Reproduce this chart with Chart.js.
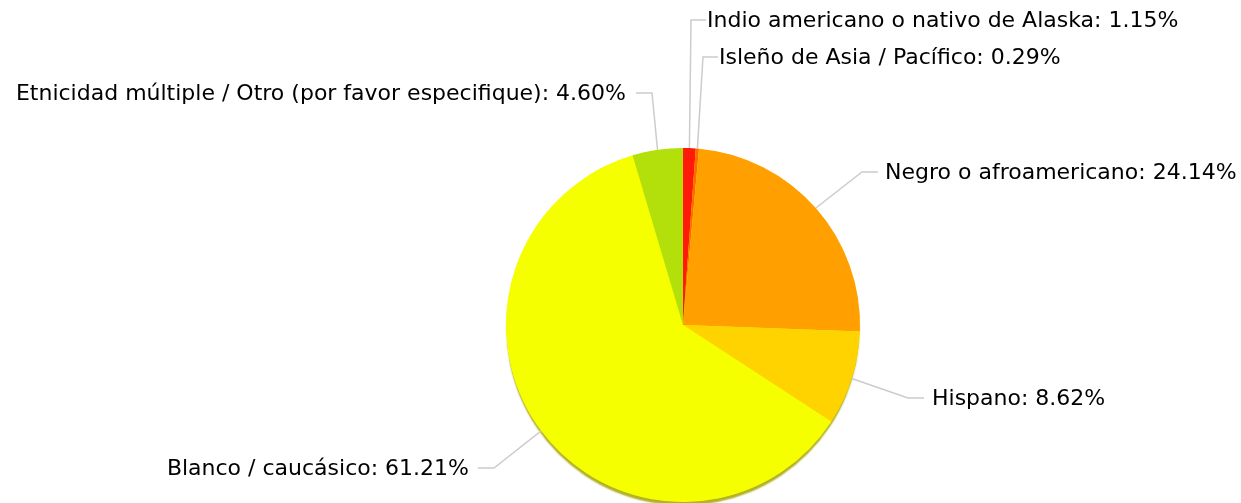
<!DOCTYPE html>
<html>
<head>
<meta charset="utf-8">
<script src="https://cdn.jsdelivr.net/npm/chart.js@4.4.0/dist/chart.umd.min.js"></script>
<style>
  html, body { margin: 0; padding: 0; background: #fff; }
  #wrap { width: 1241px; height: 503px; }
</style>
</head>
<body>
<div id="wrap"><canvas id="pie" width="1241" height="503"></canvas></div>
<script>
// données du graphique
const categories = [
    'Indio americano o nativo de Alaska',
    'Isleño de Asia / Pacífico',
    'Negro o afroamericano',
    'Hispano',
    'Blanco / caucásico',
    'Etnicidad múltiple / Otro (por favor especifique)'
];
const percents = [1.15, 0.29, 24.14, 8.62, 61.21, 4.60];
const colors = ['#ff1a0a', '#ff6a00', '#ffa000', '#ffd300', '#f5ff00', '#b3df0a'];

// position des étiquettes (coude du trait + texte)
const labelLayout = [
    { ex: 691, ey: 20, lx: 706, tx: 707, align: 'left' },
    { ex: 703, ey: 57, lx: 718, tx: 719, align: 'left' },
    { ex: 862, ey: 172, lx: 878, tx: 885, align: 'left' },
    { ex: 908, ey: 398, lx: 924, tx: 932, align: 'left' },
    { ex: 494, ey: 468, lx: 478, tx: 469, align: 'right' },
    { ex: 652, ey: 93, lx: 636, tx: 626, align: 'right' }
];

const FONT = '22px "DejaVu Sans", Verdana, sans-serif';

// ombre sous le camembert (un seul disque, dessiné avant les parts)
const shadowPlugin = {
    id: 'pieShadow',
    beforeDatasetsDraw(chart) {
        const arc = chart.getDatasetMeta(0).data[0];
        if (!arc) return;
        const p = arc.getProps(['x', 'y', 'outerRadius'], true);
        const ctx = chart.ctx;
        ctx.save();
        ctx.shadowColor = 'rgba(165, 165, 0, 0.85)';
        ctx.shadowOffsetY = 4;
        ctx.shadowBlur = 1.5;
        ctx.fillStyle = '#f5ff00';
        ctx.beginPath();
        ctx.arc(p.x, p.y, p.outerRadius - 0.5, 0, Math.PI * 2);
        ctx.fill();
        ctx.restore();
    }
};

// étiquettes avec traits de rappel
const leaderPlugin = {
    id: 'leaders',
    afterDraw(chart) {
        const ctx = chart.ctx;
        const arcs = chart.getDatasetMeta(0).data;
        ctx.save();
        ctx.font = FONT;
        ctx.textBaseline = 'middle';
        arcs.forEach((arc, i) => {
            const p = arc.getProps(['x', 'y', 'startAngle', 'endAngle', 'outerRadius'], true);
            const mid = (p.startAngle + p.endAngle) / 2;
            const sx = p.x + Math.cos(mid) * p.outerRadius;
            const sy = p.y + Math.sin(mid) * p.outerRadius;
            const L = labelLayout[i];
            ctx.strokeStyle = '#cccccc';
            ctx.lineWidth = 1.5;
            ctx.beginPath();
            ctx.moveTo(sx, sy);
            ctx.lineTo(L.ex, L.ey);
            ctx.lineTo(L.lx, L.ey);
            ctx.stroke();
            ctx.fillStyle = '#000000';
            ctx.textAlign = L.align;
            ctx.fillText(categories[i] + ': ' + percents[i].toFixed(2) + '%', L.tx, L.ey + 1);
        });
        ctx.restore();
    }
};

const chart = new Chart(document.getElementById('pie'), {
    type: 'pie',
    data: {
        labels: categories,
        datasets: [{
            data: percents,
            backgroundColor: colors,
            borderWidth: 0
        }]
    },
    options: {
        responsive: false,
        animation: false,
        layout: { padding: { top: 148, bottom: 1, left: 200, right: 75 } },
        plugins: {
            legend: { display: false },
            tooltip: { enabled: false }
        }
    },
    plugins: [shadowPlugin, leaderPlugin]
});
</script>
</body>
</html>
